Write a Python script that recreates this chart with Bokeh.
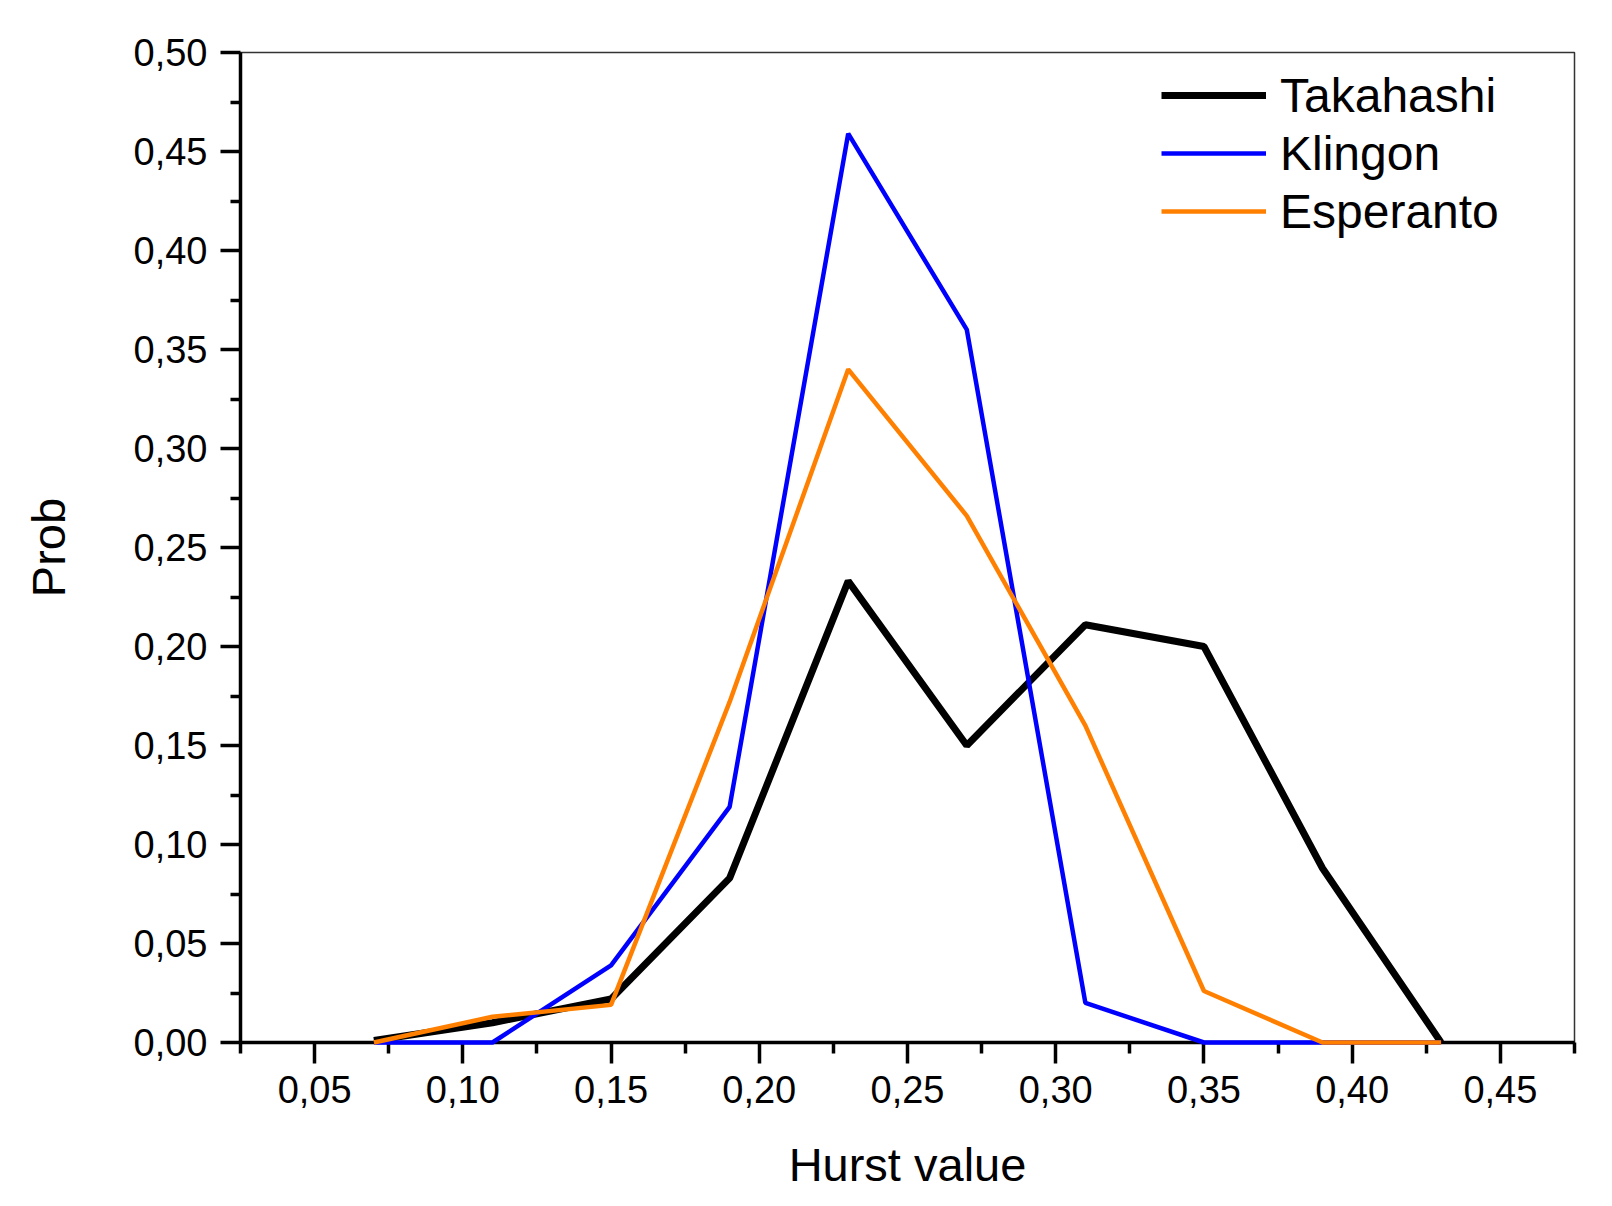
from bokeh.plotting import figure
from bokeh.models import Range1d, FixedTicker, CustomJSTickFormatter, Legend, LegendItem
from bokeh.embed import file_html
from bokeh.resources import INLINE

# ---- data ----
hurst = [0.07, 0.11, 0.15, 0.19, 0.23, 0.27, 0.31, 0.35, 0.39, 0.43]
takahashi = [0.001, 0.010, 0.022, 0.083, 0.233, 0.150, 0.211, 0.200, 0.088, 0.0]
klingon = [0.0, 0.0, 0.039, 0.119, 0.459, 0.360, 0.020, 0.0, 0.0, 0.0]
esperanto = [0.0, 0.013, 0.019, 0.172, 0.340, 0.266, 0.160, 0.026, 0.0, 0.0]

x_major = [0.05, 0.10, 0.15, 0.20, 0.25, 0.30, 0.35, 0.40, 0.45]
x_minor = [0.025, 0.075, 0.125, 0.175, 0.225, 0.275, 0.325, 0.375, 0.425, 0.475]
y_major = [0.00, 0.05, 0.10, 0.15, 0.20, 0.25, 0.30, 0.35, 0.40, 0.45, 0.50]
y_minor = [0.025, 0.075, 0.125, 0.175, 0.225, 0.275, 0.325, 0.375, 0.425, 0.475]

FONT = "Liberation Sans"

p = figure(width=1596, height=1200, output_backend="svg", toolbar_location=None,
           x_range=Range1d(0.025, 0.475), y_range=Range1d(0.0, 0.5),
           min_border_left=240, min_border_right=22, min_border_top=52, min_border_bottom=158)

p.xgrid.visible = False
p.ygrid.visible = False
p.outline_line_color = "#333333"
p.outline_line_width = 1.5
p.background_fill_color = "white"
p.border_fill_color = "white"

p.xaxis.ticker = FixedTicker(ticks=x_major, minor_ticks=x_minor)
p.yaxis.ticker = FixedTicker(ticks=y_major, minor_ticks=y_minor)
fmt = CustomJSTickFormatter(code="return tick.toFixed(2).replace('.', ',');")
p.xaxis.formatter = fmt
p.yaxis.formatter = fmt

for ax in (p.xaxis, p.yaxis):
    ax.axis_line_width = 3.5
    ax.axis_line_color = "black"
    ax.major_tick_line_width = 3.5
    ax.minor_tick_line_width = 3.5
    ax.major_tick_line_color = "black"
    ax.minor_tick_line_color = "black"
    ax.major_tick_in = 0
    ax.minor_tick_in = 0
    ax.major_label_text_font = FONT
    ax.major_label_text_font_size = "38px"
    ax.major_label_text_color = "black"
    ax.axis_label_text_font = FONT
    ax.axis_label_text_font_size = "47px"
    ax.axis_label_text_font_style = "normal"
    ax.axis_label_text_color = "black"

p.xaxis.major_tick_out = 21
p.xaxis.minor_tick_out = 11
p.yaxis.major_tick_out = 20
p.yaxis.minor_tick_out = 10
p.xaxis.major_label_standoff = 12
p.yaxis.major_label_standoff = 13
p.xaxis.axis_label = "Hurst value"
p.yaxis.axis_label = "Prob"
p.xaxis.axis_label_standoff = 32
p.yaxis.axis_label_standoff = 56

r1 = p.line(hurst, takahashi, line_color="black", line_width=7, level="overlay")
r2 = p.line(hurst, klingon, line_color="#0000FF", line_width=4.5, level="overlay")
r3 = p.line(hurst, esperanto, line_color="#FF8000", line_width=4.5, level="overlay")

legend = Legend(items=[LegendItem(label="Takahashi", renderers=[r1]),
                       LegendItem(label="Klingon", renderers=[r2]),
                       LegendItem(label="Esperanto", renderers=[r3])],
                location=(921, 802))
legend.border_line_color = None
legend.background_fill_alpha = 0
legend.padding = 0
legend.margin = 0
legend.spacing = 0
legend.label_standoff = 14
legend.glyph_width = 105
legend.glyph_height = 58
legend.label_height = 58
legend.label_text_font = FONT
legend.label_text_font_size = "48px"
legend.label_text_color = "black"
p.add_layout(legend, "center")

open("out.html", "w").write(file_html(p, INLINE))
